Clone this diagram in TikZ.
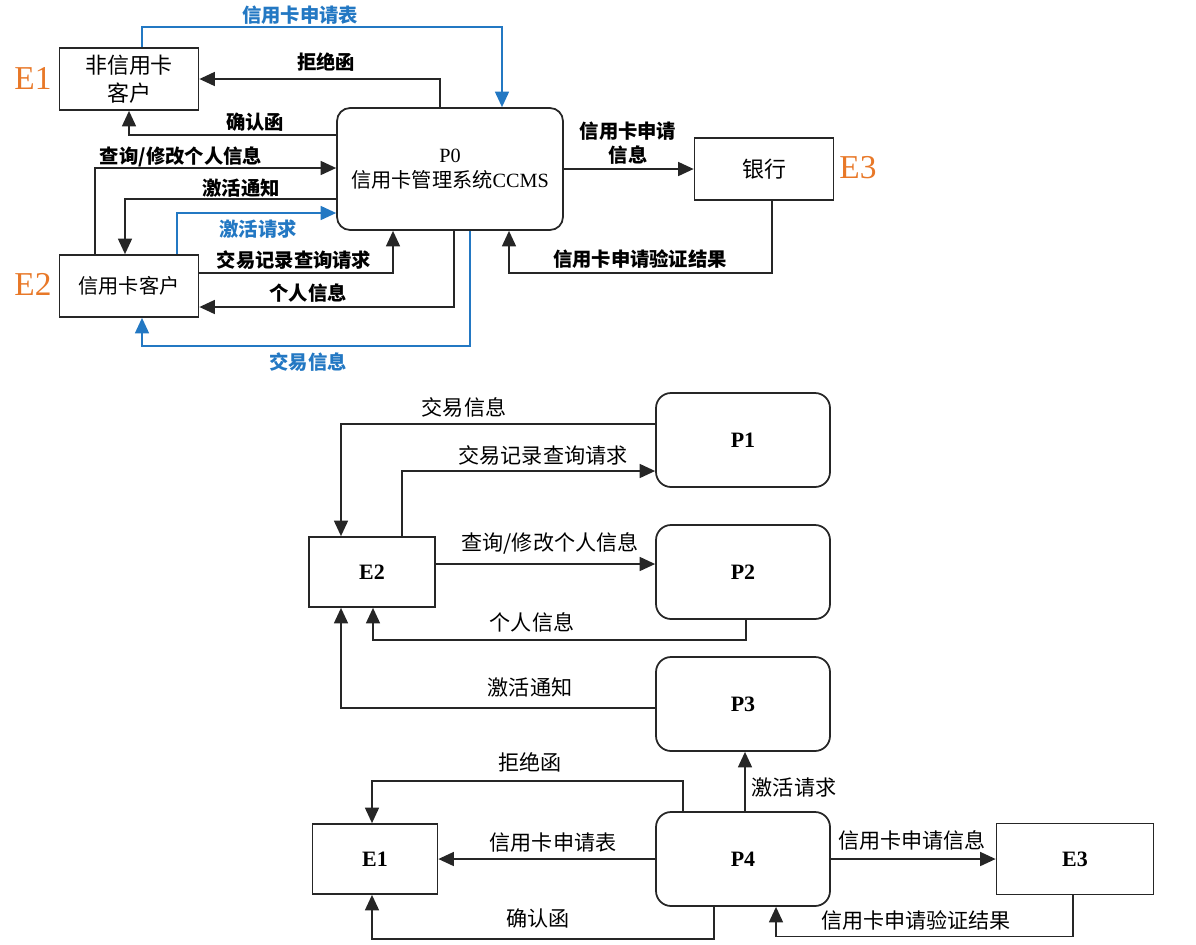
\documentclass[tikz,border=0pt]{standalone}
\usepackage{fontspec}
\setmainfont{Liberation Serif}
\newfontfamily\cjk{Noto Sans CJK SC}
\usetikzlibrary{arrows.meta}
\definecolor{flowblue}{RGB}{35,120,195}
\definecolor{tagorange}{RGB}{232,120,40}

\begin{document}
\begin{tikzpicture}[
  x=0.02cm, y=-0.02cm,
  ent/.style={rectangle, draw=black!85, line width=1pt, inner sep=0pt, align=center},
  proc/.style={ent, rounded corners=3mm},
  flow/.style={-{Triangle[length=3.1mm, width=2.8mm]}, line width=0.9pt, black!85},
  bflow/.style={flow, flowblue},
  msg/.style={font=\cjk\bfseries\fontsize{11}{14}\selectfont, inner sep=1pt, align=center},
  bmsg/.style={msg, text=flowblue},
  lowmsg/.style={font=\cjk\fontsize{12}{14}\selectfont, inner sep=1pt},
  tag/.style={font=\fontsize{19}{22}\selectfont, text=tagorange},
  pname/.style={font=\bfseries\fontsize{12.5}{15}\selectfont}
]
\useasboundingbox (0,0) rectangle (1196,944);

% Context diagram (level 0)
\node[ent, minimum width=2.78cm, minimum height=1.24cm,
      font=\cjk\fontsize{12.5}{16}\selectfont] (e1t) at (129,79) {非信用卡\\客户};
\node[ent, minimum width=2.78cm, minimum height=1.24cm,
      font=\cjk\fontsize{11.5}{14}\selectfont] (e2t) at (129,286) {信用卡客户};
\node[ent, minimum width=2.78cm, minimum height=1.24cm,
      font=\cjk\fontsize{12.5}{15}\selectfont] (bank) at (764,169) {银行};
\node[ent, rounded corners=2.6mm, minimum width=4.52cm, minimum height=2.44cm,
      font=\fontsize{11.5}{14}\selectfont] (p0) at (450,169) {P0\\{\cjk 信用卡管理系统}CCMS};

\node[tag] (t1) at (33,78) {E1};
\node[tag] (t2) at (33,284) {E2};
\node[tag] (t3) at (858,168) {E3};

% Flows of P0
\draw[bflow] (e1t.north -| 142,0) -- ++(0,-20) -| (p0.north -| 502,0);
\draw[flow] (p0.north -| 440,0) |- (e1t.east);
\draw[flow] (p0.west |- 0,135) -| (e1t.south);
\draw[flow] (e2t.north -| 95,0) |- (p0.west |- 0,168);
\draw[flow] (p0.west |- 0,199) -| (e2t.north -| 125,0);
\draw[bflow] (e2t.north -| 177,0) |- (p0.west |- 0,213);
\draw[flow] (e2t.east |- 0,273) -| (p0.south -| 393,0);
\draw[flow] (p0.south -| 454,0) |- (e2t.east |- 0,307);
\draw[bflow] (p0.south -| 470,0) -- ++(0,115) -| (e2t.south -| 142,0);
\draw[flow] (p0.east) -- (bank.west);
\draw[flow] (bank.south -| 772,0) -- ++(0,72) -| (p0.south -| 509,0);

\node[bmsg] (m1) at (300,15) {信用卡申请表};
\node[msg] (m2) at (326,62) {拒绝函};
\node[msg] (m3) at (255,122) {确认函};
\node[msg] (m4) at (181,157) {查询/修改个人信息};
\node[msg] (m5) at (241,188) {激活通知};
\node[bmsg] (m6) at (258,229) {激活请求};
\node[msg] (m7) at (294,260) {交易记录查询请求};
\node[msg] (m8) at (308,293) {个人信息};
\node[bmsg] (m9) at (308,362) {交易信息};
\node[msg] (m10) at (628,143) {信用卡申请\\信息};
\node[msg] (m11) at (640,259) {信用卡申请验证结果};

% Level 1 diagram
\node[proc, minimum width=3.48cm, minimum height=1.88cm, pname] (p1) at (743,440) {P1};
\node[proc, minimum width=3.48cm, minimum height=1.88cm, pname] (p2) at (743,572) {P2};
\node[proc, minimum width=3.48cm, minimum height=1.88cm, pname] (p3) at (743,704) {P3};
\node[proc, minimum width=3.48cm, minimum height=1.88cm, pname] (p4) at (743,859) {P4};
\node[ent, minimum width=2.52cm, minimum height=1.40cm, pname] (e2b) at (372,572) {E2};
\node[ent, minimum width=2.50cm, minimum height=1.40cm, pname] (e1b) at (375,859) {E1};
\node[ent, minimum width=3.14cm, minimum height=1.42cm, pname] (e3b) at (1075,859) {E3};

% Flows of P1 to P4
\draw[flow] (p1.west |- 0,424) -| (e2b.north -| 341,0);
\draw[flow] (e2b.north -| 402,0) |- (p1.west |- 0,471);
\draw[flow] (e2b.east |- 0,564) -- (p2.west |- 0,564);
\draw[flow] (p2.south -| 746,0) -- ++(0,20) -| (e2b.south -| 373,0);
\draw[flow] (p3.west |- 0,708) -| (e2b.south -| 341,0);
\draw[flow] (p4.north -| 745,0) -- (p3.south -| 745,0);
\draw[flow] (p4.north -| 683,0) -- ++(0,-30) -| (e1b.north -| 372,0);
\draw[flow] (p4.west) -- (e1b.east);
\draw[flow] (p4.south -| 714,0) -- ++(0,32) -| (e1b.south -| 372,0);
\draw[flow] (p4.east) -- (e3b.west);
\draw[flow] (e3b.south -| 1073,0) -- ++(0,41) -| (p4.south -| 776,0);

\node[lowmsg] (n1) at (464,407) {交易信息};
\node[lowmsg] (n2) at (543,455) {交易记录查询请求};
\node[lowmsg] (n3) at (550,543) {查询/修改个人信息};
\node[lowmsg] (n4) at (532,622) {个人信息};
\node[lowmsg] (n5) at (530,687) {激活通知};
\node[lowmsg] (n6) at (794,787) {激活请求};
\node[lowmsg] (n7) at (530,762) {拒绝函};
\node[lowmsg] (n8) at (553,843) {信用卡申请表};
\node[lowmsg] (n9) at (538,918) {确认函};
\node[lowmsg] (n10) at (912,840) {信用卡申请信息};
\node[lowmsg] (n11) at (916,920) {信用卡申请验证结果};

\end{tikzpicture}
\end{document}
